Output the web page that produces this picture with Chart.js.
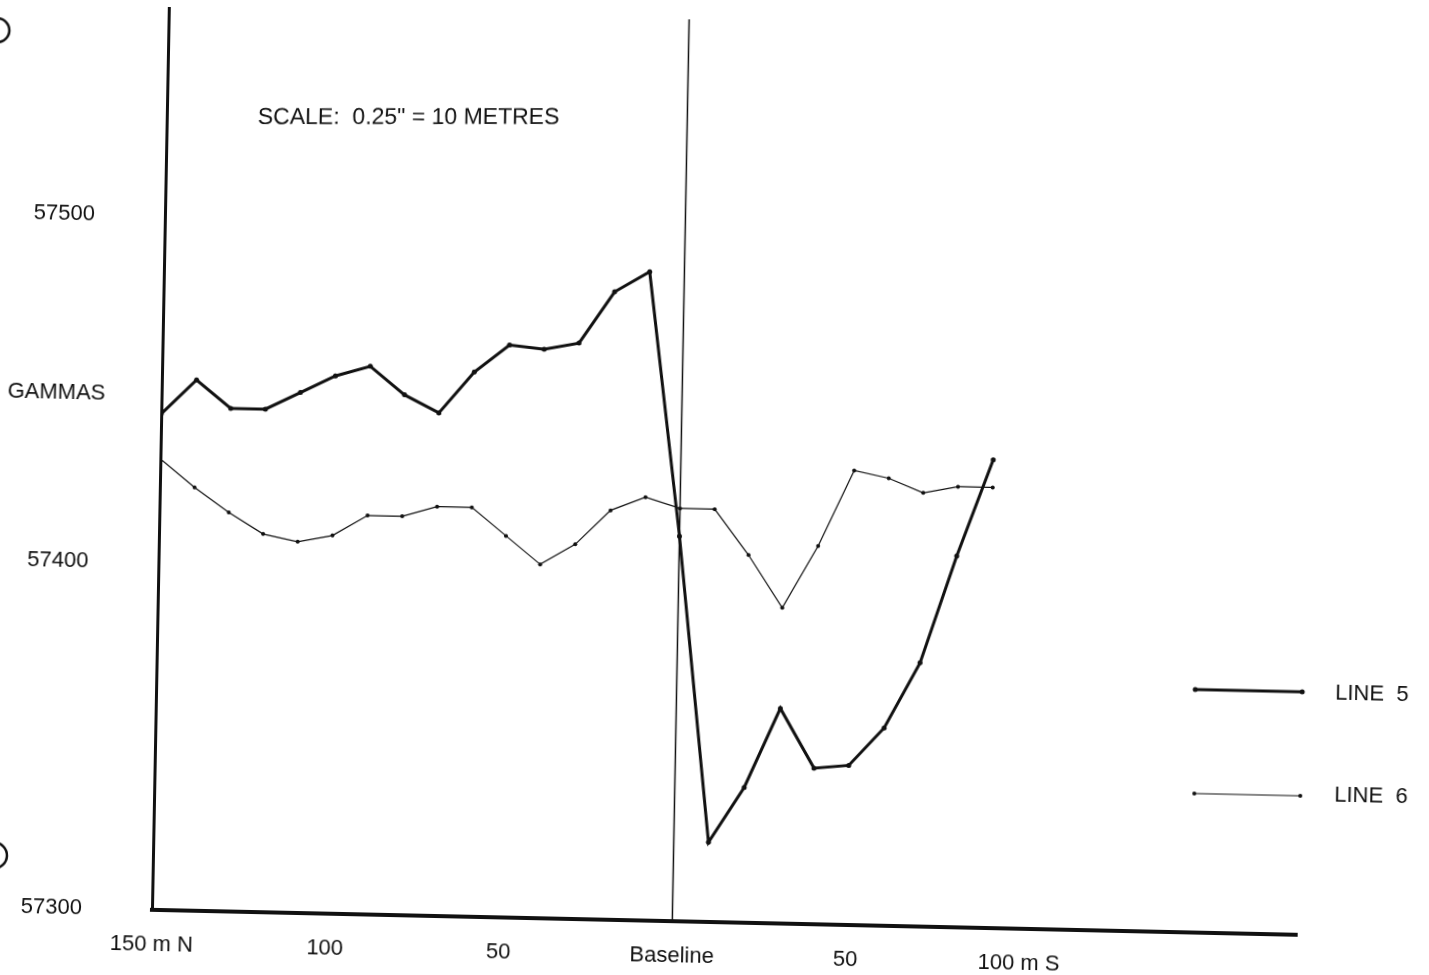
<!DOCTYPE html>
<html>
<head>
<meta charset="utf-8">
<script src="https://cdn.jsdelivr.net/npm/chart.js@4.4.1/dist/chart.umd.min.js"></script>
<style>
  html, body { margin: 0; padding: 0; background: #fff; overflow: hidden; }
  body { width: 1429px; height: 975px; position: relative; }
  /* the scanned sheet sits slightly askew, so the whole canvas is sheared a little */
  #sheet { position: absolute; left: -40px; top: -20px; width: 1509px; height: 1015px;
           transform-origin: 192px 930px; transform: matrix(1, 0.0218, -0.0187, 1, 0, 0); }
</style>
</head>
<body>
<div id="sheet"><canvas id="gammaChart"></canvas></div>
<script>
"use strict";
// stations along the traverse in metres, north negative, south positive
const stations = [-150, -140, -130, -120, -110, -100, -90, -80, -70, -60, -50, -40, -30, -20, -10,
                  0, 10, 20, 30, 40, 50, 60, 70, 80, 90];
// total field readings, gammas
const line5 = [57443, 57453, 57445, 57445, 57450, 57455, 57458, 57450, 57445, 57457, 57465, 57464, 57466, 57481, 57487,
               57411, 57323, 57339, 57362, 57345, 57346, 57357, 57376, 57407, 57435];
const line6 = [57430, 57422, 57415, 57409, 57407, 57409, 57415, 57415, 57418, 57418, 57410, 57402, 57408, 57418, 57422,
               57419, 57419, 57406, 57391, 57409, 57431, 57429, 57425, 57427, 57427];
const xTickValues = [-150, -100, -50, 0, 50, 100];
const xTickLabels = ['150 m N', '100', '50', 'Baseline', '50', '100 m S'];
const yTickValues = [57300, 57400, 57500];

const FONT = "'Liberation Sans', Arial, sans-serif";
const INK = '#111';
Chart.defaults.font.family = FONT;
Chart.defaults.color = INK;

// legend rows drawn by hand on the right of the sheet
const legendRows = [
    { x1: 1231, x2: 1338, y: 687, tx: 1371, ty: 694 },
    { x1: 1232, x2: 1338, y: 791, tx: 1372, ty: 796 }
];

const paperMarks = {
    id: 'paperMarks',
    beforeDatasetsDraw(chart) {
        const { ctx, chartArea, scales } = chart;
        const bx = scales.x.getPixelForValue(0);
        ctx.save();
        ctx.strokeStyle = INK;
        ctx.lineWidth = 1.5;
        ctx.beginPath();
        ctx.moveTo(bx, chartArea.bottom);
        ctx.lineTo(bx, chartArea.top);
        ctx.stroke();
        ctx.restore();
    },
    afterDraw(chart) {
        const ctx = chart.ctx;
        ctx.save();
        ctx.fillStyle = INK;
        ctx.strokeStyle = INK;
        ctx.textBaseline = 'alphabetic';

        // the scale note was typed level on the page
        ctx.save();
        ctx.translate(283, 142);
        ctx.transform(1, -0.0218, 0, 1, 0, 0);
        ctx.font = '23px ' + FONT;
        ctx.fillText('SCALE:  0.25" = 10 METRES', 0, 0);
        ctx.restore();

        ctx.font = '22px ' + FONT;
        ctx.fillText('GAMMAS', 38, 421);

        chart.data.datasets.forEach((ds, i) => {
            const r = legendRows[i];
            ctx.lineWidth = ds.borderWidth;
            ctx.beginPath();
            ctx.moveTo(r.x1, r.y);
            ctx.lineTo(r.x2, r.y);
            ctx.stroke();
            [r.x1, r.x2].forEach(px => {
                ctx.beginPath();
                ctx.arc(px, r.y, ds.pointRadius, 0, Math.PI * 2);
                ctx.fill();
            });
            ctx.font = '22px ' + FONT;
            ctx.fillText(ds.label, r.tx, r.ty);
        });

        // punch holes on the left margin of the sheet
        ctx.lineWidth = 2.5;
        ctx.beginPath();
        ctx.arc(21, 54, 12, 0, Math.PI * 2);
        ctx.stroke();
        ctx.beginPath();
        ctx.arc(33, 879, 13, 0, Math.PI * 2);
        ctx.stroke();
        ctx.restore();
    }
};

const canvas = document.getElementById('gammaChart');
new Chart(canvas.getContext('2d'), {
    type: 'line',
    data: {
        datasets: [{
            label: 'LINE  5',
            data: stations.map((s, i) => ({ x: s, y: line5[i] })),
            borderColor: INK,
            backgroundColor: INK,
            borderWidth: 3,
            pointRadius: 2.5,
            pointBorderWidth: 0,
            pointBackgroundColor: INK,
            tension: 0
        }, {
            label: 'LINE  6',
            data: stations.map((s, i) => ({ x: s, y: line6[i] })),
            borderColor: INK,
            backgroundColor: INK,
            borderWidth: 1.2,
            pointRadius: 2,
            pointBorderWidth: 0,
            pointBackgroundColor: INK,
            tension: 0
        }]
    },
    options: {
        responsive: true,
        maintainAspectRatio: false,
        animation: false,
        events: [],
        layout: { padding: { top: 28, right: 172, left: 0, bottom: 0 } },
        plugins: {
            legend: { display: false },
            tooltip: { enabled: false }
        },
        scales: {
            x: {
                type: 'linear',
                position: 'bottom',
                min: -150,
                max: 180,
                grid: { display: false, drawTicks: false },
                border: { display: true, color: INK, width: 4 },
                afterBuildTicks: s => { s.ticks = xTickValues.map(v => ({ value: v })); },
                afterFit: s => { s.height = 85; },
                ticks: {
                    autoSkip: false,
                    maxRotation: 0,
                    padding: 22,
                    font: { size: 22 },
                    callback: v => xTickLabels[xTickValues.indexOf(v)]
                }
            },
            y: {
                min: 57300,
                max: 57560,
                grid: { display: false, drawTicks: false },
                border: { display: true, color: INK, width: 3 },
                afterBuildTicks: s => { s.ticks = yTickValues.map(v => ({ value: v })); },
                afterFit: s => {
                    s.width = 192;
                    // the wide label gap should not push the plot area down
                    s.paddingTop = 0;
                    s.paddingBottom = 0;
                },
                ticks: {
                    padding: 70,
                    font: { size: 22 },
                    callback: v => String(v)
                }
            }
        }
    },
    plugins: [paperMarks]
});
</script>
</body>
</html>
